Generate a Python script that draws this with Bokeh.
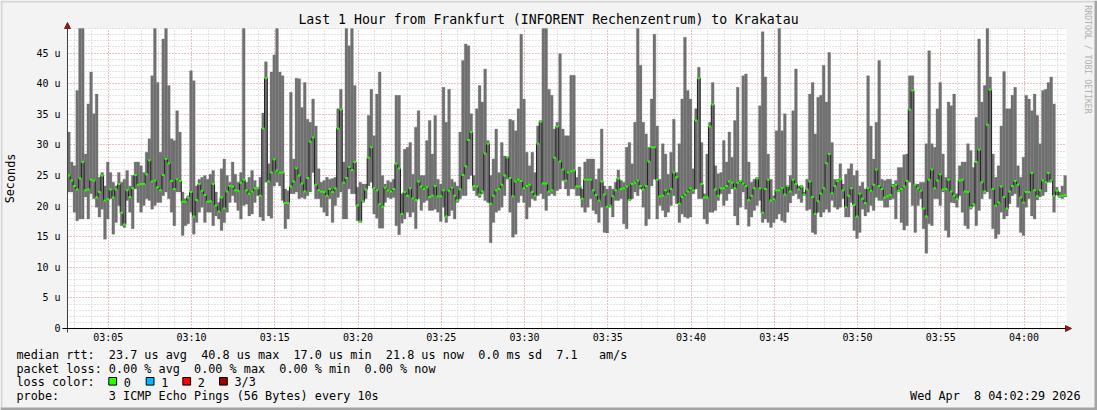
import pandas as pd
from bokeh.plotting import figure
from bokeh.models import (FixedTicker, Label, Arrow, NormalHead, Range1d, BoxAnnotation,
                          ColumnDataSource, DatetimeTickFormatter)
from bokeh.embed import file_html
from bokeh.resources import INLINE

# ---------------- data (microseconds) ----------------
median_us = [
    25.0, 24.2, 23.3, 22.7, 24.5, 27.2, 22.6, 22.7, 24.3, 24.2,
    21.4, 22.3, 25.0, 20.9, 21.1, 22.7, 21.4, 22.7, 23.6, 18.9,
    17.0, 22.6, 21.5, 22.9, 25.1, 23.5, 23.6, 23.6, 25.2, 27.5,
    24.0, 24.2, 23.1, 22.6, 25.1, 27.7, 27.0, 24.1, 22.8, 24.4,
    24.1, 20.7, 20.7, 21.4, 22.3, 18.3, 21.0, 23.6, 22.5, 21.8,
    20.7, 20.8, 23.6, 20.1, 19.1, 21.4, 19.6, 22.4, 23.3, 23.2,
    22.6, 22.5, 23.8, 24.3, 22.6, 22.0, 22.4, 22.9, 22.9, 21.7,
    32.7, 40.9, 24.0, 25.5, 27.6, 25.8, 25.5, 25.5, 20.5, 20.5,
    23.2, 24.0, 26.2, 25.0, 23.7, 22.4, 24.6, 30.5, 31.2, 23.5,
    22.6, 22.4, 22.3, 21.7, 22.8, 22.3, 22.9, 32.7, 35.8, 23.8,
    24.6, 26.4, 25.9, 27.2, 20.1, 17.5, 20.8, 22.7, 27.9, 29.6,
    22.9, 22.6, 20.3, 19.9, 23.0, 22.6, 22.4, 22.8, 26.9, 26.2,
    18.7, 22.3, 21.7, 22.9, 21.3, 21.0, 24.0, 23.2, 22.8, 23.1,
    21.5, 21.7, 23.3, 21.6, 21.6, 22.6, 18.3, 22.5, 23.0, 21.7,
    20.9, 22.7, 25.1, 26.5, 30.8, 32.1, 23.3, 23.2, 21.9, 22.4,
    28.6, 30.2, 20.4, 21.7, 22.6, 22.8, 23.5, 25.0, 28.0, 24.6,
    21.6, 24.0, 24.3, 24.1, 22.9, 23.3, 23.5, 22.3, 21.7, 30.2,
    33.8, 23.7, 23.7, 22.4, 22.6, 27.9, 33.0, 27.3, 26.0, 24.2,
    25.5, 25.7, 25.8, 23.2, 23.2, 21.2, 24.3, 24.3, 24.3, 22.6,
    21.8, 20.9, 24.0, 21.9, 19.9, 20.1, 21.6, 22.6, 24.5, 22.8,
    22.9, 23.2, 21.0, 23.6, 23.8, 24.2, 23.3, 22.7, 23.3, 27.3,
    29.6, 29.6, 24.3, 21.6, 21.7, 22.6, 22.0, 22.8, 25.5, 24.7,
    20.4, 21.5, 21.9, 22.4, 22.9, 22.6, 34.0, 40.9, 23.6, 21.4,
    21.4, 33.0, 36.6, 22.7, 21.7, 22.9, 22.9, 23.3, 24.0, 23.8,
    22.9, 23.8, 24.1, 23.7, 23.3, 21.0, 21.7, 22.9, 24.5, 22.9,
    18.9, 22.8, 24.3, 20.9, 21.1, 22.6, 22.6, 22.9, 21.9, 23.3,
    22.4, 24.3, 23.6, 22.7, 23.2, 21.9, 22.7, 24.0, 21.5, 18.7,
    20.8, 22.0, 22.9, 27.0, 28.5, 22.1, 23.3, 24.1, 24.4, 22.6,
    19.8, 21.7, 22.9, 20.2, 18.3, 22.0, 21.2, 20.5, 22.9, 22.5,
    23.5, 26.0, 23.3, 22.8, 21.4, 21.6, 21.8, 23.3, 23.5, 22.5,
    22.8, 23.2, 24.1, 35.8, 38.9, 23.5, 22.9, 22.5, 19.6, 18.3,
    24.3, 26.0, 22.9, 24.2, 25.2, 22.7, 22.8, 24.3, 22.4, 21.7,
    21.2, 24.2, 24.3, 22.4, 22.3, 19.8, 20.3, 27.2, 29.2, 23.9,
    22.4, 33.3, 39.0, 22.8, 20.1, 20.6, 23.2, 21.5, 19.6, 22.4,
    23.3, 24.1, 23.5, 21.4, 20.6, 22.3, 22.3, 25.4, 22.6, 21.6,
    22.6, 24.2, 23.9, 25.4, 24.2, 21.7, 22.5, 21.6, 21.7, 21.8,
]
max_us = [
    32.1, 27.2, 26.6, 38.9, 49.0, 49.0, 28.5, 36.7, 41.9, 35.1,
    38.3, 24.7, 25.5, 23.3, 27.2, 25.5, 23.9, 23.3, 25.5, 23.9,
    24.4, 25.8, 23.3, 25.0, 27.2, 27.2, 26.6, 25.5, 28.8, 31.0,
    41.3, 49.0, 40.2, 28.8, 47.3, 49.0, 39.7, 31.0, 30.7, 35.6,
    32.1, 22.3, 21.2, 21.7, 42.1, 40.5, 23.3, 24.4, 24.7, 25.0,
    24.4, 25.2, 25.8, 22.3, 20.6, 26.1, 27.7, 25.0, 23.9, 27.2,
    25.2, 23.9, 25.5, 49.0, 23.9, 24.7, 25.8, 24.2, 23.1, 24.7,
    35.2, 43.6, 26.9, 41.9, 44.7, 49.0, 41.9, 41.3, 22.8, 22.5,
    38.6, 27.7, 40.9, 40.8, 36.1, 40.2, 34.2, 33.7, 37.5, 33.1,
    26.1, 23.9, 24.2, 24.7, 24.4, 24.5, 24.7, 35.9, 39.1, 27.2,
    49.0, 46.2, 49.0, 39.7, 23.1, 23.9, 23.6, 23.6, 34.8, 39.1,
    31.5, 38.3, 41.9, 25.0, 23.6, 24.2, 23.9, 24.4, 38.1, 38.1,
    22.0, 29.3, 29.6, 30.4, 25.2, 32.9, 35.6, 25.0, 25.0, 30.7,
    34.0, 28.5, 34.8, 24.4, 23.6, 39.4, 33.7, 39.1, 24.4, 23.9,
    23.3, 32.1, 43.8, 46.5, 46.2, 35.1, 25.0, 35.9, 39.7, 37.0,
    42.4, 30.7, 25.0, 27.7, 32.6, 25.5, 30.4, 28.2, 28.0, 34.2,
    34.0, 32.3, 35.9, 48.1, 37.5, 28.8, 26.6, 28.8, 25.5, 33.1,
    34.0, 49.0, 49.0, 39.1, 38.1, 32.6, 33.7, 44.9, 32.6, 31.5,
    31.5, 41.4, 41.4, 24.7, 26.4, 22.8, 27.2, 27.7, 27.7, 27.7,
    24.4, 26.1, 32.6, 23.3, 22.8, 23.3, 22.8, 23.9, 25.9, 24.2,
    23.9, 29.6, 30.4, 26.9, 33.7, 49.0, 43.0, 33.7, 31.8, 29.6,
    37.5, 48.1, 33.1, 24.4, 30.2, 28.5, 25.2, 28.8, 34.2, 25.5,
    30.2, 37.5, 47.6, 38.9, 37.5, 26.1, 35.9, 42.7, 30.4, 22.0,
    28.5, 33.7, 40.2, 26.6, 25.3, 25.5, 30.7, 27.2, 32.1, 28.0,
    34.0, 39.4, 24.2, 41.3, 41.6, 27.2, 23.9, 24.4, 24.7, 36.4,
    48.5, 41.1, 28.5, 24.4, 21.7, 32.3, 49.0, 32.3, 35.1, 23.4,
    25.0, 35.6, 42.4, 23.3, 23.4, 22.3, 24.4, 38.3, 40.2, 31.8,
    37.8, 38.1, 43.0, 37.0, 45.1, 30.4, 24.4, 24.4, 26.9, 23.6,
    25.2, 26.1, 26.9, 25.0, 25.8, 23.3, 23.9, 22.8, 41.3, 33.1,
    27.7, 33.7, 43.8, 24.4, 24.2, 24.4, 24.4, 23.6, 24.2, 26.3,
    26.3, 28.4, 28.5, 41.3, 41.3, 23.6, 23.6, 23.9, 23.9, 30.2,
    45.4, 30.2, 29.6, 35.9, 40.2, 28.5, 24.7, 37.0, 36.4, 38.3,
    22.0, 26.6, 27.2, 27.2, 30.2, 29.1, 26.3, 34.5, 47.3, 37.0,
    39.7, 49.0, 41.1, 28.5, 24.7, 26.6, 33.1, 42.0, 35.9, 35.9,
    38.1, 39.4, 26.6, 24.7, 28.0, 38.1, 37.5, 35.6, 38.3, 34.8,
    30.2, 38.9, 39.1, 40.2, 41.1, 36.7, 23.1, 22.3, 23.3, 25.0,
]
min_us = [
    22.3, 22.3, 19.0, 17.6, 17.9, 17.9, 21.5, 17.9, 22.0, 21.2,
    19.8, 18.2, 19.5, 14.6, 17.9, 21.2, 15.4, 17.3, 20.1, 16.8,
    16.5, 20.9, 19.0, 16.3, 22.8, 20.6, 19.0, 20.1, 21.2, 20.9,
    19.5, 20.1, 20.6, 20.6, 21.7, 22.3, 21.2, 19.0, 16.8, 22.3,
    22.3, 15.2, 16.8, 17.1, 19.0, 15.4, 17.3, 19.0, 19.8, 17.3,
    19.0, 19.0, 16.8, 18.4, 17.9, 16.0, 17.3, 19.0, 20.6, 21.7,
    20.6, 19.3, 17.9, 20.1, 20.3, 18.4, 18.7, 20.6, 21.7, 18.2,
    17.6, 23.9, 18.4, 18.0, 23.3, 23.9, 23.3, 20.9, 16.3, 17.9,
    22.0, 22.0, 22.3, 21.2, 21.4, 21.2, 21.7, 22.3, 25.5, 21.2,
    21.2, 19.8, 19.0, 18.4, 21.2, 17.3, 20.1, 21.4, 22.3, 17.9,
    17.9, 22.8, 22.0, 22.0, 17.6, 17.3, 20.6, 21.2, 23.3, 23.9,
    18.7, 18.0, 16.4, 16.4, 20.6, 21.4, 21.2, 21.4, 16.8, 15.3,
    17.2, 17.9, 19.0, 18.2, 19.0, 16.3, 21.2, 19.3, 20.6, 20.9,
    19.3, 19.3, 19.5, 19.0, 17.5, 19.8, 17.3, 18.4, 19.3, 17.9,
    20.6, 21.2, 21.7, 21.7, 24.4, 25.0, 22.5, 21.7, 21.4, 22.0,
    20.9, 20.6, 14.0, 17.3, 19.0, 19.3, 19.8, 21.7, 24.4, 19.0,
    14.9, 15.4, 20.6, 21.7, 20.6, 17.9, 19.8, 21.2, 20.9, 21.7,
    22.0, 21.2, 19.3, 21.7, 22.0, 21.7, 22.5, 22.8, 24.2, 22.8,
    21.7, 22.8, 22.8, 21.7, 21.7, 19.8, 19.0, 19.8, 21.2, 19.3,
    18.7, 17.3, 19.8, 15.7, 15.6, 19.8, 18.2, 20.9, 20.9, 21.2,
    17.1, 16.3, 20.9, 21.2, 22.3, 21.7, 22.8, 19.8, 16.8, 17.9,
    23.3, 24.4, 17.9, 20.1, 19.3, 18.2, 19.0, 20.1, 21.7, 20.4,
    17.3, 18.7, 18.2, 18.0, 18.2, 22.0, 22.8, 21.2, 21.2, 17.9,
    17.1, 19.0, 19.0, 19.3, 20.9, 22.0, 20.1, 20.9, 22.0, 22.8,
    18.4, 16.9, 19.8, 22.3, 19.5, 16.7, 18.2, 19.3, 20.1, 20.9,
    17.3, 17.9, 17.3, 16.5, 17.3, 17.9, 18.7, 17.6, 17.3, 19.0,
    20.5, 21.7, 22.0, 21.2, 20.6, 21.7, 19.3, 19.5, 15.7, 15.4,
    19.0, 18.2, 19.0, 19.5, 19.0, 20.9, 19.8, 19.5, 19.8, 21.2,
    18.2, 18.2, 20.6, 16.0, 14.7, 15.7, 19.5, 18.4, 19.0, 20.1,
    19.3, 21.4, 20.9, 20.9, 19.8, 19.8, 21.0, 21.2, 17.9, 22.3,
    17.3, 16.1, 16.8, 23.9, 20.1, 15.7, 20.1, 21.2, 16.3, 12.3,
    17.1, 16.8, 21.2, 21.2, 20.1, 22.3, 16.0, 14.9, 20.6, 20.5,
    19.8, 21.7, 19.0, 16.8, 16.3, 19.5, 20.0, 16.8, 19.3, 21.2,
    22.0, 22.3, 21.2, 16.3, 14.7, 15.4, 19.0, 17.9, 18.4, 20.4,
    21.7, 22.0, 19.8, 15.7, 15.2, 19.8, 21.2, 18.4, 17.9, 21.0,
    21.5, 21.7, 22.3, 23.9, 23.9, 19.0, 21.8, 21.4, 21.2, 21.5,
]

start_time = "2026-04-08 03:02:33"
end_time = "2026-04-08 04:02:33"
step_seconds = 10
y_ticks = [0, 5, 10, 15, 20, 25, 30, 35, 40, 45]
y_tick_labels = ["0", "5 u", "10 u", "15 u", "20 u", "25 u", "30 u", "35 u", "40 u", "45 u"]
x_tick_times = ["03:05", "03:10", "03:15", "03:20", "03:25", "03:30",
                "03:35", "03:40", "03:45", "03:50", "03:55", "04:00"]

title_text = "Last 1 Hour from Frankfurt (INFORENT Rechenzentrum) to Krakatau"
legend_line1 = "median rtt:  23.7 us avg  40.8 us max  17.0 us min  21.8 us now  0.0 ms sd  7.1   am/s"
legend_line2 = "packet loss: 0.00 % avg  0.00 % max  0.00 % min  0.00 % now"
legend_line3 = "loss color:"
loss_labels = ["0", "1", "2", "3/3"]
loss_colors = ["#26ff00", "#00b8ff", "#ff0000", "#a00000"]
legend_line4 = "probe:       3 ICMP Echo Pings (56 Bytes) every 10s"
date_text = "Wed Apr  8 04:02:29 2026"
y_label = "Seconds"
side_text = "RRDTOOL / TOBI OETIKER"

# ---------------- layout constants (pixels of the 1097 x 410 picture) ----------------
W, H = 1097, 410
PLOT_L, PLOT_R, PLOT_T, PLOT_B = 67, 1066, 28, 328
FONT = "DejaVu Sans Mono"
NB = "\u00a0"


def keep_spaces(s):
    return s.replace(" ", NB)


t0 = pd.Timestamp(start_time)
t1 = pd.Timestamp(end_time)
step = pd.Timedelta(seconds=step_seconds)
times = pd.date_range(t0, periods=len(median_us), freq=f"{step_seconds}s")
src = ColumnDataSource(dict(
    left=times, right=times + step, center=times + step / 2,
    med=median_us, hi=max_us, lo=min_us,
))


def ms(ts):
    return pd.Timestamp(ts).value / 1e6


# the frame is the whole picture; the time/value scales put the data area at PLOT_*
y_top = 49.02
sec_per_px = (t1 - t0).total_seconds() / (PLOT_R - PLOT_L)
u_per_px = y_top / (PLOT_B - PLOT_T)
x_lo = t0 - pd.Timedelta(seconds=PLOT_L * sec_per_px)
x_hi = t1 + pd.Timedelta(seconds=(W - PLOT_R) * sec_per_px)
y_lo = -(H - PLOT_B) * u_per_px
y_hi = PLOT_B * u_per_px

p = figure(width=W, height=H, x_axis_type="datetime",
           x_range=Range1d(x_lo, x_hi), y_range=Range1d(y_lo, y_hi),
           output_backend="svg", toolbar_location=None, tools="")
p.min_border = 0
p.min_border_left = 0
p.min_border_right = 0
p.min_border_top = 0
p.min_border_bottom = 0
p.background_fill_color = "#f3f3f3"
p.border_fill_color = "#f3f3f3"
p.outline_line_color = None

# white canvas area
p.quad(left=[t0], right=[t1], bottom=[0], top=[y_top], fill_color="white",
       line_color=None, level="image")

day = "2026-04-08 "
major_x = [ms(day + t) for t in x_tick_times]
minor_x = [ms(t) for t in pd.date_range(day + "03:03", day + "04:02", freq="1min")]
minor_y = list(range(1, 50))
p.xaxis.ticker = FixedTicker(ticks=major_x, minor_ticks=minor_x)
p.xaxis.formatter = DatetimeTickFormatter(minutes="%H:%M", hours="%H:%M", minsec="%H:%M",
                                          seconds="%H:%M", hourmin="%H:%M")
p.yaxis.ticker = FixedTicker(ticks=y_ticks, minor_ticks=minor_y)
p.yaxis.major_label_overrides = {k: v for k, v in zip(y_ticks, y_tick_labels)}
p.xaxis.fixed_location = 0
p.yaxis.fixed_location = ms(t0)
p.xaxis.bounds = (ms(t0), ms(t1))
p.yaxis.bounds = (0, y_top)

for ax in (p.xaxis[0], p.yaxis[0]):
    ax.axis_line_color = None
    ax.major_tick_out = 0
    ax.major_tick_in = 0
    ax.minor_tick_out = 0
    ax.minor_tick_in = 0
    ax.major_label_text_font = FONT
    ax.major_label_text_font_size = "10px"
    ax.major_label_text_color = "#000000"
p.xaxis.major_label_standoff = 3
p.yaxis.major_label_standoff = 7

GRID_MAJOR = "#e8a0a0"
GRID_MINOR = "#c8c8c8"
manual_grid = False
try:
    p.xgrid[0].cross_bounds = (0, y_top)
    p.ygrid[0].cross_bounds = (ms(t0), ms(t1))
except Exception:
    manual_grid = True

if not manual_grid:
    for g in (p.xgrid[0], p.ygrid[0]):
        g.grid_line_color = GRID_MAJOR
        g.grid_line_dash = "1 2"
        g.grid_line_width = 1
        g.minor_grid_line_color = GRID_MINOR
        g.minor_grid_line_dash = "1 2"
        g.minor_grid_line_width = 1
else:
    p.xgrid.visible = False
    p.ygrid.visible = False
    mx = [v for v in minor_x if v not in major_x]
    p.segment(x0=mx, x1=mx, y0=[0] * len(mx), y1=[y_top] * len(mx),
              line_color=GRID_MINOR, line_dash="1 2", level="underlay")
    p.segment(x0=major_x, x1=major_x, y0=[0] * len(major_x), y1=[y_top] * len(major_x),
              line_color=GRID_MAJOR, line_dash="1 2", level="underlay")
    my = [v for v in minor_y if v not in y_ticks]
    p.segment(x0=[ms(t0)] * len(my), x1=[ms(t1)] * len(my), y0=my, y1=my,
              line_color=GRID_MINOR, line_dash="1 2", level="underlay")
    p.segment(x0=[ms(t0)] * len(y_ticks), x1=[ms(t1)] * len(y_ticks), y0=y_ticks, y1=y_ticks,
              line_color=GRID_MAJOR, line_dash="1 2", level="underlay")

# smoke (min..max)
p.quad(left="left", right="right", bottom="lo", top="hi", source=src,
       fill_color="#707070", line_color="#707070", line_width=0.3)
# median step line
step_x = list(times) + [times[-1] + step]
step_y = list(median_us) + [median_us[-1]]
p.step(step_x, step_y, mode="after", line_color="#202020", line_width=1)
# loss-coloured median marks
p.rect(x="center", y="med", width=step_seconds * 1000, height=2, height_units="screen",
       source=src, fill_color=loss_colors[0], line_color=None)

# axes with arrow heads
head_col = "#8b1a1a"
p.add_layout(Arrow(x_start=ms(t0), y_start=-4 * u_per_px, x_end=ms(t0), y_end=y_top + 6 * u_per_px,
                   line_color="#404040", line_width=1,
                   end=NormalHead(size=6, fill_color=head_col, line_color=head_col)))
p.add_layout(Arrow(x_start=ms(t0) - 5000 * 3.6, y_start=0, x_end=ms(t1) + 5000 * 3.6, y_end=0,
                   line_color="#000000", line_width=1,
                   end=NormalHead(size=6, fill_color=head_col, line_color=head_col)))


def box(left, right, top, bottom, color, line=None):
    """picture pixels from the top-left corner."""
    p.add_layout(BoxAnnotation(left=left, right=right, top=H - top, bottom=H - bottom,
                               left_units="screen", right_units="screen",
                               top_units="screen", bottom_units="screen",
                               fill_color=color, fill_alpha=1.0,
                               line_color=line, line_alpha=1.0 if line else 0.0,
                               line_width=1))


def lab(x, y, text, size="11.8px", align="left", angle=0.0, color="#000000"):
    """x, y are picture pixels from the top-left corner."""
    p.add_layout(Label(x=x, y=H - y, x_units="screen", y_units="screen",
                       text=keep_spaces(text), text_font=FONT, text_font_size=size,
                       text_align=align, text_baseline="middle", angle=angle,
                       text_color=color))


# picture frame (3D-style edge of the rrdtool image)
box(0, W, 0, 2, "#d6d6d6")
box(0, 2, 0, H, "#d6d6d6")
box(W - 3, W, 0, H, "#a4a4a4")
box(0, W, H - 3, H, "#a4a4a4")

lab(548, 19, title_text, size="13.2px", align="center")
lab(10, 178, y_label, align="center", angle=1.5707963)
lab(1087, 59, side_text, size="8.2px", align="center", angle=-1.5707963, color="#b0b0b0")
lab(16, 354, legend_line1)
lab(16, 368.3, legend_line2)
lab(16, 381.7, legend_line3)
sq_left = [108.3, 145.7, 182.3, 219.0]
for sx, col, txt in zip(sq_left, loss_colors, loss_labels):
    box(sx, sx + 7.8, 377.0, 384.6, col, line="#000000")
    lab(sx + 15, 381.7, txt)
lab(16, 395.7, legend_line4)
lab(1080, 395.7, date_text, align="right")

open("out.html", "w").write(file_html(p, INLINE))
